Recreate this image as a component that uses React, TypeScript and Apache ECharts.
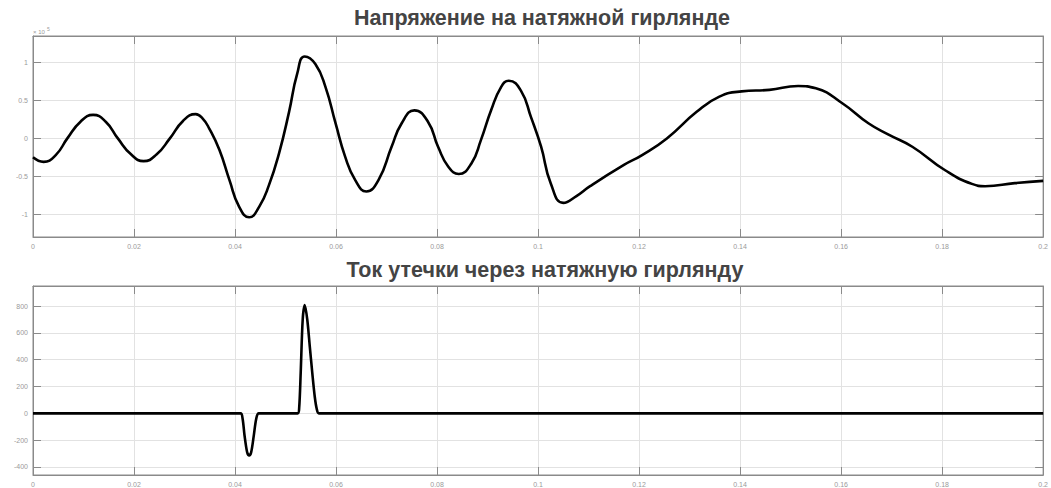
import React, { useEffect, useRef } from "react";
import * as echarts from "echarts";

// Напряжение (×10^5)
const voltageTime = [0, 0.0021, 0.0045, 0.0068, 0.0094, 0.0119, 0.0144, 0.0168, 0.0194, 0.0219, 0.0245, 0.0271, 0.0297, 0.0322, 0.0336, 0.0349, 0.0369, 0.0389, 0.0408, 0.0428, 0.0448, 0.0467, 0.0487, 0.0507, 0.0523, 0.0538, 0.0559, 0.0579, 0.0599, 0.0618, 0.0638, 0.066, 0.0684, 0.071, 0.073, 0.0755, 0.0782, 0.0802, 0.0822, 0.0843, 0.0868, 0.0887, 0.0907, 0.0927, 0.0942, 0.0966, 0.0986, 0.1006, 0.1025, 0.105, 0.1076, 0.1103, 0.117, 0.1206, 0.1255, 0.1314, 0.1359, 0.1403, 0.1458, 0.1515, 0.155, 0.1603, 0.1654, 0.1694, 0.1741, 0.1806, 0.1859, 0.1885, 0.1944, 0.2];
const voltageValue = [-0.25, -0.31, -0.22, 0, 0.22, 0.31, 0.22, 0, -0.21, -0.3, -0.21, 0, 0.23, 0.32, 0.26, 0.13, -0.15, -0.55, -0.9, -1.04, -0.9, -0.62, -0.2, 0.35, 0.85, 1.08, 0.98, 0.68, 0.2, -0.24, -0.55, -0.7, -0.55, -0.11, 0.2, 0.37, 0.22, -0.11, -0.37, -0.47, -0.33, -0.02, 0.37, 0.68, 0.76, 0.63, 0.28, -0.11, -0.59, -0.85, -0.76, -0.63, -0.35, -0.22, 0, 0.35, 0.55, 0.62, 0.64, 0.69, 0.66, 0.46, 0.2, 0.05, -0.11, -0.42, -0.6, -0.63, -0.59, -0.56];

// Ток утечки
const currentTime = [0, 0.0411, 0.0415, 0.0419, 0.0424, 0.0428, 0.0432, 0.0437, 0.0442, 0.0447, 0.0524, 0.0527, 0.053, 0.0534, 0.0538, 0.0543, 0.0548, 0.0553, 0.0558, 0.0562, 0.0566, 0.2];
const currentValue = [0, 0, -40, -170, -290, -315, -290, -170, -40, 0, 0, 40, 300, 700, 808, 700, 500, 300, 120, 30, 0, 0];

const titleTop = "Напряжение на натяжной гирлянде";
const titleBottom = "Ток утечки через натяжную гирлянду";

const lblColor = "#9a9a9a";
const axisColor = "#8a8a8a";
const gridColor = "#e2e2e2";

function xAx(gridIndex: number, position: "bottom" | "top") {
  const main = position === "bottom";
  return {
    type: "value",
    gridIndex,
    position,
    min: 0,
    max: 0.2,
    interval: 0.02,
    axisLine: { show: true, onZero: false, lineStyle: { color: axisColor, width: 1 } },
    axisTick: { show: true, inside: true, length: 8, lineStyle: { color: axisColor } },
    axisLabel: {
      show: main,
      color: lblColor,
      fontSize: 7,
      margin: 6,
      fontFamily: "Liberation Sans, Arial, sans-serif",
      formatter: (v: number) => String(parseFloat(v.toFixed(4))),
    },
    splitLine: { show: main, lineStyle: { color: gridColor, width: 1 } },
  };
}

function yAx(gridIndex: number, position: "left" | "right", min: number, max: number, splitNumber: number, step: number) {
  const main = position === "left";
  return {
    type: "value",
    gridIndex,
    position,
    min,
    max,
    splitNumber,
    axisLine: { show: true, onZero: false, lineStyle: { color: axisColor, width: 1 } },
    axisTick: { show: true, inside: true, length: 8, lineStyle: { color: axisColor } },
    axisLabel: {
      show: main,
      color: lblColor,
      fontSize: 7,
      margin: 5,
      showMinLabel: false,
      showMaxLabel: false,
      fontFamily: "Liberation Sans, Arial, sans-serif",
      formatter: (v: number) => {
        const r = v / step;
        if (Math.abs(r - Math.round(r)) > 1e-6) return "";
        return String(parseFloat(v.toFixed(4)));
      },
    },
    splitLine: { show: main, lineStyle: { color: gridColor, width: 1 } },
  };
}

export default function App() {
  const ref = useRef<HTMLDivElement>(null);
  useEffect(() => {
    if (!ref.current) return;
    const chart = echarts.init(ref.current, undefined, { renderer: "svg" });
    const font = "Liberation Sans, Arial, sans-serif";
    chart.setOption({
      animation: false,
      backgroundColor: "#ffffff",
      grid: [
        { left: 33, top: 36, width: 1016, height: 201, show: true, borderColor: axisColor, borderWidth: 1 },
        { left: 33, top: 286, width: 1016, height: 192, show: true, borderColor: axisColor, borderWidth: 1 },
      ],
      xAxis: [xAx(0, "bottom"), xAx(0, "top"), xAx(1, "bottom"), xAx(1, "top")],
      yAxis: [
        yAx(0, "left", -1.3, 1.35, 5, 0.5),
        yAx(0, "right", -1.3, 1.35, 5, 0.5),
        yAx(1, "left", -460, 950, 7, 200),
        yAx(1, "right", -460, 950, 7, 200),
      ],
      graphic: [
        {
          type: "text",
          x: 542,
          y: 18,
          style: { text: titleTop, fill: "#444444", font: `bold 21.5px ${font}`, textAlign: "center", textVerticalAlign: "middle" },
        },
        {
          type: "text",
          x: 545,
          y: 270,
          style: { text: titleBottom, fill: "#444444", font: `bold 21.5px ${font}`, textAlign: "center", textVerticalAlign: "middle" },
        },
        {
          type: "text",
          x: 33,
          y: 32,
          style: { text: "× 10", fill: lblColor, font: `6px ${font}`, textAlign: "left", textVerticalAlign: "middle" },
        },
        {
          type: "text",
          x: 47,
          y: 29,
          style: { text: "5", fill: lblColor, font: `5px ${font}`, textAlign: "left", textVerticalAlign: "middle" },
        },
      ],
      series: [
        {
          type: "line",
          xAxisIndex: 0,
          yAxisIndex: 0,
          data: voltageTime.map((t, i) => [t, voltageValue[i]]),
          showSymbol: false,
          smooth: 0.5,
          lineStyle: { color: "#000000", width: 2.6 },
        },
        {
          type: "line",
          xAxisIndex: 2,
          yAxisIndex: 2,
          data: currentTime.map((t, i) => [t, currentValue[i]]),
          showSymbol: false,
          smooth: 0.3,
          lineStyle: { color: "#000000", width: 2.6 },
        },
      ],
    });
    return () => chart.dispose();
  }, []);
  return <div ref={ref} style={{ position: "fixed", left: 0, top: 0, width: 1051, height: 488 }} />;
}
